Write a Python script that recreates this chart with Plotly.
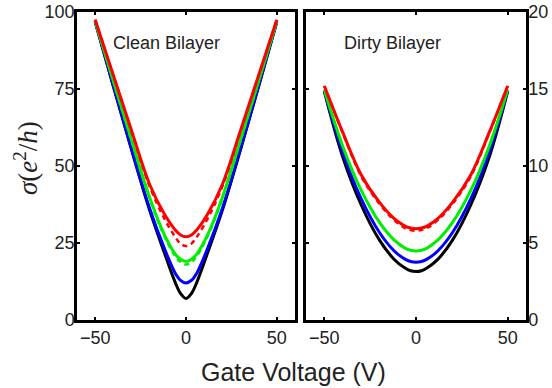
import plotly.graph_objects as go

# Gate voltage sample points (V)
gate_v = [-50, -40, -30, -20, -12, -6, -3, 0, 3, 6, 12, 20, 30, 40, 50]

# Clean bilayer conductivity (e^2/h)
clean_black = [96.8, 75.9, 55.3, 35.6, 22.0, 12.3, 8.6, 7.0, 8.6, 12.3, 22.0, 35.6, 55.3, 75.9, 96.8]
clean_blue = [97.0, 76.1, 55.6, 36.2, 23.4, 15.3, 12.9, 12.0, 12.9, 15.3, 23.4, 36.2, 55.6, 76.1, 97.0]
clean_green_dash = [97.0, 77.5, 58.2, 39.4, 27.3, 20.8, 18.8, 18.0, 18.8, 20.8, 27.3, 39.4, 58.2, 77.5, 97.0]
clean_green = [97.0, 77.6, 58.5, 39.8, 27.8, 21.5, 19.7, 19.0, 19.7, 21.5, 27.8, 39.8, 58.5, 77.6, 97.0]
clean_red_dash = [97.5, 79.4, 61.2, 43.3, 33.0, 27.0, 24.8, 24.0, 24.8, 27.0, 33.0, 43.3, 61.2, 79.4, 97.5]
clean_red = [97.5, 79.5, 61.5, 44.0, 34.5, 29.3, 27.6, 27.0, 27.6, 29.3, 34.5, 44.0, 61.5, 79.5, 97.5]

# Dirty bilayer conductivity (e^2/h)
dirty_black = [14.85, 10.6, 7.5, 5.2, 3.95, 3.37, 3.2, 3.15, 3.2, 3.37, 3.95, 5.2, 7.5, 10.6, 14.85]
dirty_blue = [14.9, 10.9, 7.9, 5.7, 4.5, 3.95, 3.8, 3.75, 3.8, 3.95, 4.5, 5.7, 7.9, 10.9, 14.9]
dirty_green = [14.95, 11.3, 8.45, 6.35, 5.2, 4.67, 4.53, 4.48, 4.53, 4.67, 5.2, 6.35, 8.45, 11.3, 14.95]
dirty_red_dash = [15.2, 12.15, 9.35, 7.55, 6.5, 5.97, 5.84, 5.8, 5.84, 5.97, 6.5, 7.55, 9.35, 12.15, 15.2]
dirty_red = [15.2, 12.2, 9.45, 7.65, 6.6, 6.1, 5.97, 5.93, 5.97, 6.1, 6.6, 7.65, 9.45, 12.2, 15.2]

x_ticks = [-50, 0, 50]
clean_y_ticks = [0, 25, 50, 75, 100]
dirty_y_ticks = [0, 5, 10, 15, 20]

fig = go.Figure()

def add(y, color, axis, dash=None, width=3):
    xa, ya = axis
    fig.add_trace(go.Scatter(
        x=gate_v, y=y, mode="lines", xaxis=xa, yaxis=ya,
        line=dict(color=color, width=width, shape="spline", smoothing=1.0,
                  dash=dash if dash else "solid"),
        hoverinfo="skip"))

L = ("x", "y")
R = ("x2", "y2")
add(clean_black, "#000000", L)
add(clean_blue, "#0000ff", L)
add(clean_green_dash, "#00ee00", L, dash="5px,4px", width=2.5)
add(clean_green, "#00ee00", L)
add(clean_red_dash, "#ff0000", L, dash="5px,4px", width=2.5)
add(clean_red, "#ff0000", L)

add(dirty_black, "#000000", R)
add(dirty_blue, "#0000ff", R)
add(dirty_green, "#00ee00", R)
add(dirty_red_dash, "#ff0000", R, dash="5px,4px", width=2.5)
add(dirty_red, "#ff0000", R)

W, H = 552, 388
ydom = [(H - 320) / H, (H - 12) / H]
tickfont = dict(family="Liberation Sans", size=18, color="#222222")
common = dict(ticks="inside", ticklen=3, tickwidth=1.5, tickcolor="black",
              showline=True, linecolor="black", linewidth=2.5, mirror="ticks",
              showgrid=False, zeroline=False, tickfont=tickfont, automargin=False)

def ann(text, px, py, size, family="Liberation Sans", angle=0):
    return dict(text=text, x=px / W, y=1 - py / H, xref="paper", yref="paper",
                xanchor="center", yanchor="middle", showarrow=False, textangle=angle,
                font=dict(family=family, size=size, color="#222222"))

fig.update_layout(
    width=W, height=H, margin=dict(l=0, r=0, t=0, b=0, pad=0), autosize=False,
    paper_bgcolor="white", plot_bgcolor="white", showlegend=False,
    xaxis=dict(domain=[77 / W, 295 / W], range=[-60, 60], tickvals=x_ticks, anchor="y", **common),
    yaxis=dict(domain=ydom, range=[0, 100], tickvals=clean_y_ticks, anchor="x",
               ticklabelstandoff=-4, **common),
    xaxis2=dict(domain=[306 / W, 526 / W], range=[-60, 60], tickvals=x_ticks, anchor="y2", **common),
    yaxis2=dict(domain=ydom, range=[0, 20], tickvals=dirty_y_ticks, anchor="x2", side="right",
                ticklabelstandoff=-4, **common),
    annotations=[
        ann("Clean Bilayer", 166.5, 43, 18),
        ann("Dirty Bilayer", 392, 43, 18),
        ann("Gate Voltage (V)", 293, 372, 25),
        ann("<i>σ</i>(<i>e</i><sup>2</sup>/<i>h</i>)", 26, 158, 27, family="Liberation Serif", angle=-90),
    ],
)

fig.write_html("out.html", config={"displayModeBar": False},
               post_script="document.body.style.margin='0';document.body.style.padding='0';")
